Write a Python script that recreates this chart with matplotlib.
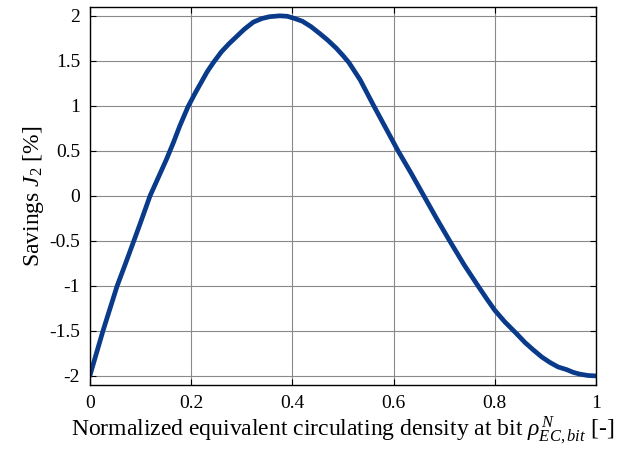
import matplotlib
matplotlib.use("Agg")
import matplotlib.pyplot as plt

# curve
rho = [0.0, 0.013, 0.026, 0.04, 0.054, 0.07, 0.087, 0.1, 0.119, 0.135, 0.151,
       0.165, 0.178, 0.194, 0.208, 0.22, 0.232, 0.244, 0.26, 0.275, 0.29, 0.305,
       0.323, 0.34, 0.355, 0.375, 0.39, 0.405, 0.42, 0.437, 0.455, 0.47, 0.487,
       0.5, 0.512, 0.534, 0.561, 0.585, 0.609, 0.635, 0.66, 0.685, 0.711, 0.74,
       0.767, 0.785, 0.8, 0.82, 0.843, 0.86, 0.876, 0.893, 0.909, 0.925, 0.942,
       0.955, 0.968, 0.984, 1.0]
savings = [-2.0, -1.75, -1.5, -1.25, -1.0, -0.76, -0.5, -0.3, 0.0, 0.2, 0.4,
           0.59, 0.78, 0.99, 1.14, 1.26, 1.38, 1.48, 1.6, 1.69, 1.77, 1.85,
           1.93, 1.97, 1.99, 2.0, 1.995, 1.97, 1.94, 1.88, 1.8, 1.73, 1.64,
           1.56, 1.48, 1.29, 1.0, 0.75, 0.5, 0.25, 0.0, -0.25, -0.5, -0.77,
           -1.0, -1.15, -1.27, -1.4, -1.53, -1.63, -1.71, -1.79, -1.85, -1.9, -1.93,
           -1.96, -1.98, -1.995, -2.0]

xticks = [0, 0.2, 0.4, 0.6, 0.8, 1]
xticklabels = ['0', '0.2', '0.4', '0.6', '0.8', '1']
yticks = [-2, -1.5, -1, -0.5, 0, 0.5, 1, 1.5, 2]
yticklabels = ['-2', '-1.5', '-1', '-0.5', '0', '0.5', '1', '1.5', '2']

plt.rcParams['font.family'] = 'Liberation Serif'
plt.rcParams['mathtext.fontset'] = 'custom'
plt.rcParams['mathtext.rm'] = 'Liberation Serif'
plt.rcParams['mathtext.it'] = 'Liberation Serif:italic'

fig = plt.figure(figsize=(6.28, 4.55), dpi=100)
ax = fig.add_axes([0.143, 0.154, 0.806, 0.831])

ax.plot(rho, savings, color='#0a3a8a', lw=3.4, solid_capstyle='round',
        solid_joinstyle='round')

ax.set_xlim(0, 1)
ax.set_ylim(-2.1, 2.1)
ax.set_xticks(xticks)
ax.set_xticklabels(xticklabels)
ax.set_yticks(yticks)
ax.set_yticklabels(yticklabels)
ax.tick_params(direction='in', top=True, right=True, length=4, labelsize=14, pad=7)
ax.grid(True, color='#8a8a8a', lw=0.8)
for s in ax.spines.values():
    s.set_linewidth(1.0)

ax.set_xlabel(r'Normalized equivalent circulating density at bit $\rho^{\,N}_{EC,bit}$ [-]',
              fontsize=17, labelpad=2)
ax.set_ylabel(r'Savings $J_2$ [%]', fontsize=17, labelpad=2)

fig.savefig('out.png', dpi=100)
